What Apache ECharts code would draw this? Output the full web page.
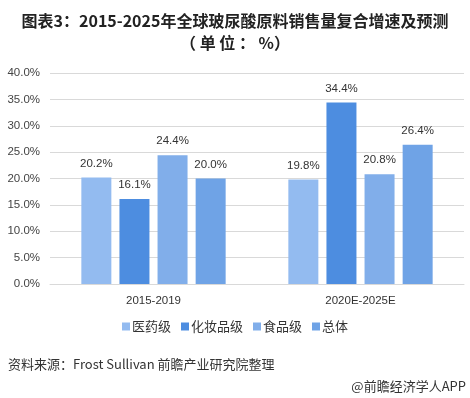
<!DOCTYPE html>
<html>
<head>
<meta charset="utf-8">
<script src="https://cdn.jsdelivr.net/npm/echarts@6/dist/echarts.min.js"></script>
<style>
  html, body { margin: 0; padding: 0; background: #fff; }
  #main { width: 470px; height: 398px; }
</style>
</head>
<body>
<div id="main"></div>
<script>
// 数据
var categories = ['2015-2019', '2020E-2025E'];
var seriesNames = ['医药级', '化妆品级', '食品级', '总体'];
var yiyao = [20.2, 19.8];
var huazhuang = [16.1, 34.4];
var shipin = [24.4, 20.8];
var zongti = [20.0, 26.4];
var colorList = ['#93bbf0', '#4d8de0', '#81aeea', '#6fa3e6'];

var chart = echarts.init(document.getElementById('main'));

function makeSeries(name, data, color) {
  return {
    name: name,
    type: 'bar',
    barWidth: 30,
    barGap: '27%',
    itemStyle: { color: color },
    label: {
      show: true,
      position: 'top',
      distance: 8,
      color: '#333',
      fontSize: 11.5,
      fontFamily: 'Liberation Sans',
      formatter: function (p) { return p.value.toFixed(1) + '%'; }
    },
    data: data
  };
}

var option = {
  title: {
    text: '图表3：2015-2025年全球玻尿酸原料销售量复合增速及预测\n（ 单 位 ： %）',
    left: 'center',
    top: 5,
    textStyle: {
      fontSize: 16,
      fontWeight: 'bold',
      color: '#222',
      lineHeight: 22,
      fontFamily: 'Noto Sans CJK SC'
    }
  },
  legend: {
    bottom: 60,
    left: 'center',
    itemWidth: 8,
    itemHeight: 8,
    itemGap: 10,
    icon: 'rect',
    textStyle: { fontSize: 13, color: '#333', padding: [0, 0, 0, -3], fontFamily: 'Noto Sans CJK SC' },
    data: seriesNames
  },
  grid: { left: 50, right: 6, top: 73, bottom: 114 },
  xAxis: {
    type: 'category',
    data: categories,
    axisLine: { lineStyle: { color: '#d9d9d9' } },
    axisTick: { show: false },
    axisLabel: { color: '#333', fontSize: 11.5, margin: 11, fontFamily: 'Liberation Sans' }
  },
  yAxis: {
    type: 'value',
    min: 0,
    max: 40,
    interval: 5,
    axisLine: { show: false },
    axisTick: { show: false },
    splitLine: { lineStyle: { color: '#d9d9d9' } },
    axisLabel: {
      color: '#444',
      fontSize: 11.5,
      margin: 10,
      fontFamily: 'Liberation Sans',
      formatter: function (v) { return v.toFixed(1) + '%'; }
    }
  },
  graphic: [
    {
      type: 'text',
      left: 8,
      top: 358,
      style: { text: '资料来源：Frost Sullivan 前瞻产业研究院整理', fill: '#333', font: '13px "Noto Sans CJK SC"' }
    },
    {
      type: 'text',
      right: 4,
      top: 380,
      style: { text: '@前瞻经济学人APP', fill: '#333', font: '13px "Noto Sans CJK SC"' }
    }
  ],
  series: [
    makeSeries(seriesNames[0], yiyao, colorList[0]),
    makeSeries(seriesNames[1], huazhuang, colorList[1]),
    makeSeries(seriesNames[2], shipin, colorList[2]),
    makeSeries(seriesNames[3], zongti, colorList[3])
  ]
};

chart.setOption(option);
</script>
</body>
</html>
